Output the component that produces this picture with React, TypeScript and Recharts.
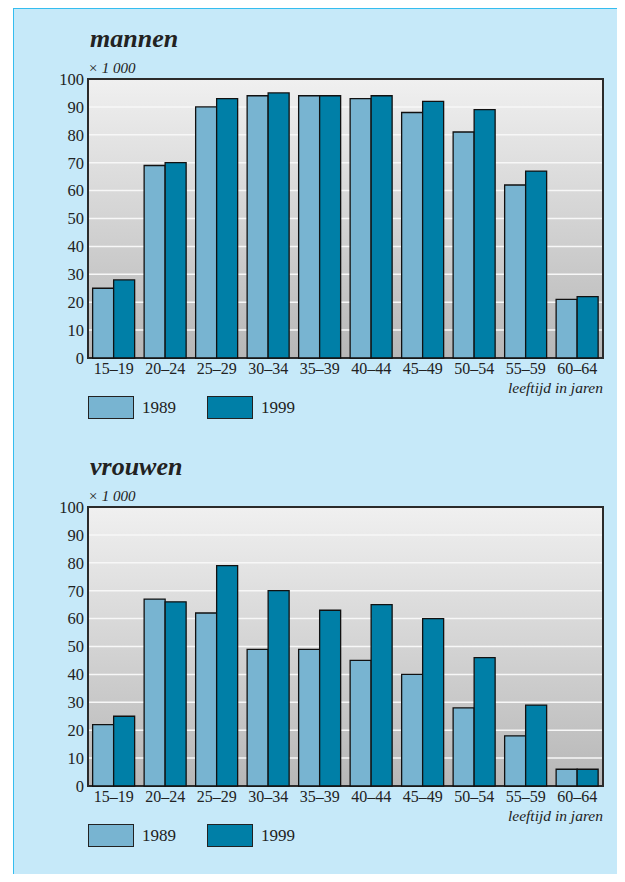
import React from "react";
import { BarChart, Bar, XAxis, YAxis, CartesianGrid, ReferenceArea } from "recharts";

const ageGroups = ["15–19", "20–24", "25–29", "30–34", "35–39", "40–44", "45–49", "50–54", "55–59", "60–64"];
const years = ["1989", "1999"];
const yTicks = [0, 10, 20, 30, 40, 50, 60, 70, 80, 90, 100];

// aantallen x 1000
const men1989 = [25, 69, 90, 94, 94, 93, 88, 81, 62, 21];
const men1999 = [28, 70, 93, 95, 94, 94, 92, 89, 67, 22];
const women1989 = [22, 67, 62, 49, 49, 45, 40, 28, 18, 6];
const women1999 = [25, 66, 79, 70, 63, 65, 60, 46, 29, 6];

const colors = ["#78b4d1", "#007fa7"];
const serif = "Liberation Serif";

function buildRows(a: number[], b: number[]) {
  return ageGroups.map((age, i) => ({ age, [years[0]]: a[i], [years[1]]: b[i] }));
}

function Panel({ id, title, top, data }: { id: string; title: string; top: number; data: any[] }) {
  return (
    <div style={{ position: "absolute", left: 0, top, width: 625, height: 428 }}>
      <div
        style={{
          position: "absolute",
          left: 90,
          top: 24,
          fontFamily: serif,
          fontSize: 26,
          fontWeight: "bold",
          fontStyle: "italic",
          color: "#222",
          lineHeight: "30px",
        }}
      >
        {title}
      </div>
      <div
        style={{
          position: "absolute",
          left: 88,
          top: 60,
          fontFamily: serif,
          fontSize: 15,
          fontStyle: "italic",
          color: "#222",
          lineHeight: "16px",
        }}
      >
        × 1 000
      </div>
      <BarChart
        width={625}
        height={400}
        data={data}
        margin={{ top: 79, right: 22, left: 48, bottom: 12 }}
        barCategoryGap="9%"
        barGap={0}
      >
        <defs>
          <linearGradient id={id} x1="0" y1="0" x2="0" y2="1">
            <stop offset="0%" stopColor="#f0f0f0" />
            <stop offset="100%" stopColor="#b7b7b7" />
          </linearGradient>
        </defs>
        <CartesianGrid vertical={false} fill={`url(#${id})`} stroke="#f7f7f7" strokeWidth={1.5} />
        <XAxis
          dataKey="age"
          axisLine={false}
          tickLine={false}
          tickSize={0}
          tickMargin={5}
          height={30}
          interval={0}
          tick={{ fontFamily: serif, fontSize: 16, fill: "#222" }}
        />
        <YAxis
          domain={[0, 100]}
          ticks={yTicks}
          axisLine={false}
          tickLine={false}
          tickSize={0}
          tickMargin={4}
          width={40}
          interval={0}
          tick={{ fontFamily: serif, fontSize: 16.5, fill: "#222" }}
        />
        {years.map((y, i) => (
          <Bar key={y} dataKey={y} fill={colors[i]} stroke="#111" strokeWidth={1.3} isAnimationActive={false} />
        ))}
        <ReferenceArea y1={0} y2={100} fill="none" stroke="#2b2b2b" strokeWidth={2} ifOverflow="visible" />
      </BarChart>
      <div
        style={{
          position: "absolute",
          right: 22,
          top: 380,
          fontFamily: serif,
          fontSize: 15.5,
          fontStyle: "italic",
          color: "#222",
          lineHeight: "15px",
        }}
      >
        leeftijd in jaren
      </div>
      {years.map((y, i) => (
        <div key={y} style={{ position: "absolute", left: 88 + i * 119, top: 396, display: "flex", alignItems: "center" }}>
          <div style={{ width: 44, height: 21, background: colors[i], border: "1.5px solid #222" }} />
          <span style={{ fontFamily: serif, fontSize: 17, color: "#222", marginLeft: 8 }}>{y}</span>
        </div>
      ))}
    </div>
  );
}

export default function App() {
  return (
    <div style={{ position: "relative", width: 625, height: 882, margin: -8, background: "#fff", overflow: "hidden" }}>
      <div
        style={{
          position: "absolute",
          left: 13,
          top: 7,
          width: 625,
          height: 882,
          background: "#c6e9f9",
          borderTop: "2px solid #35bdef",
          borderLeft: "1px solid #35bdef",
        }}
      />
      <Panel id="bg-mannen" title="mannen" top={0} data={buildRows(men1989, men1999)} />
      <Panel id="bg-vrouwen" title="vrouwen" top={428} data={buildRows(women1989, women1999)} />
    </div>
  );
}
